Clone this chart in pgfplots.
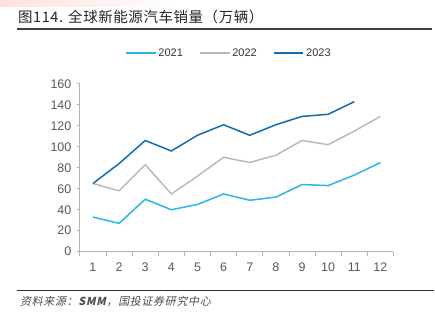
\documentclass[border=0pt]{standalone}
\usepackage{pgfplots}
\pgfplotsset{compat=1.18}
\usepackage{fontspec}
\setmainfont{Liberation Sans}
\newfontfamily\cjk{Noto Sans CJK SC}[LetterSpace=4]
\newfontfamily\cjkf{Noto Sans CJK SC}[LetterSpace=6]
\definecolor{c21}{RGB}{41,182,234}
\definecolor{c22}{RGB}{189,184,184}
\definecolor{c23}{RGB}{16,108,180}
\definecolor{axg}{RGB}{180,180,180}
\definecolor{tickg}{RGB}{89,89,89}
\begin{document}
\begin{tikzpicture}
\path (0pt,0pt) rectangle (435pt,321pt);
\shade[left color=red!12, right color=white] (0pt,314pt) rectangle (180pt,321pt);
% title
\node[anchor=base west, inner sep=0pt, font=\cjk\fontsize{14.5}{14.5}\selectfont, text=black!85] at (18pt,298pt) {图114. 全球新能源汽车销量（万辆）};
\draw[line width=1.6pt, black!75] (17pt,292pt) -- (433pt,292pt);
% footer
\draw[line width=1.2pt, black!80] (17pt,30pt) -- (435pt,30pt);
\node[anchor=base west, inner sep=0pt, font=\cjkf\fontsize{11}{11}\selectfont, text=black!70, xslant=0.2] at (20pt,15pt) {资料来源：\textbf{SMM}，国投证券研究中心};
\begin{axis}[
  at={(80pt,69pt)}, anchor=south west,
  scale only axis, width=314pt, height=168pt,
  xmin=0.5, xmax=12.5, ymin=0, ymax=160,
  axis x line*=bottom, axis y line*=left,
  axis line style={axg, line width=0.8pt},
  xtick={1,...,12},
  minor xtick={0.5,1.5,...,12.5},
  major x tick style={draw=none},
  minor x tick style={axg, line width=0.8pt},
  minor tick length=4pt,
  ytick={0,20,...,160},
  y tick style={axg, line width=0.8pt},
  major tick length=3pt,
  tick align=outside,
  tick label style={font=\fontsize{12.5}{12.5}\selectfont\color{tickg}},
  /pgf/number format/assume math mode=true,
  xticklabel style={yshift=-5pt},
  yticklabel style={xshift=-2pt},
  clip=false,
  legend style={at={(0.475,1.0)}, yshift=22pt, anchor=south, draw=none, fill=none,
    legend columns=3, font=\fontsize{11}{11}\selectfont\color{black!80},
    /tikz/every even column/.append style={column sep=14pt}},
  legend image code/.code={\draw[mark repeat=2,mark phase=2,#1] plot coordinates {(0pt,0pt) (15pt,0pt) (30pt,0pt)};},
]
\addplot[c21, line width=1.5pt] coordinates {(1,33) (2,27) (3,50) (4,40) (5,45) (6,55) (7,49) (8,52) (9,64) (10,63) (11,73) (12,85)};
\addlegendentry{2021}
\addplot[c22, line width=1.5pt] coordinates {(1,65) (2,58) (3,83) (4,55) (5,72) (6,90) (7,85) (8,92) (9,106) (10,102) (11,115) (12,129)};
\addlegendentry{2022}
\addplot[c23, line width=1.5pt] coordinates {(1,65) (2,84) (3,106) (4,96) (5,111) (6,121) (7,111) (8,121) (9,129) (10,131) (11,143)};
\addlegendentry{2023}
\end{axis}
\end{tikzpicture}
\end{document}
